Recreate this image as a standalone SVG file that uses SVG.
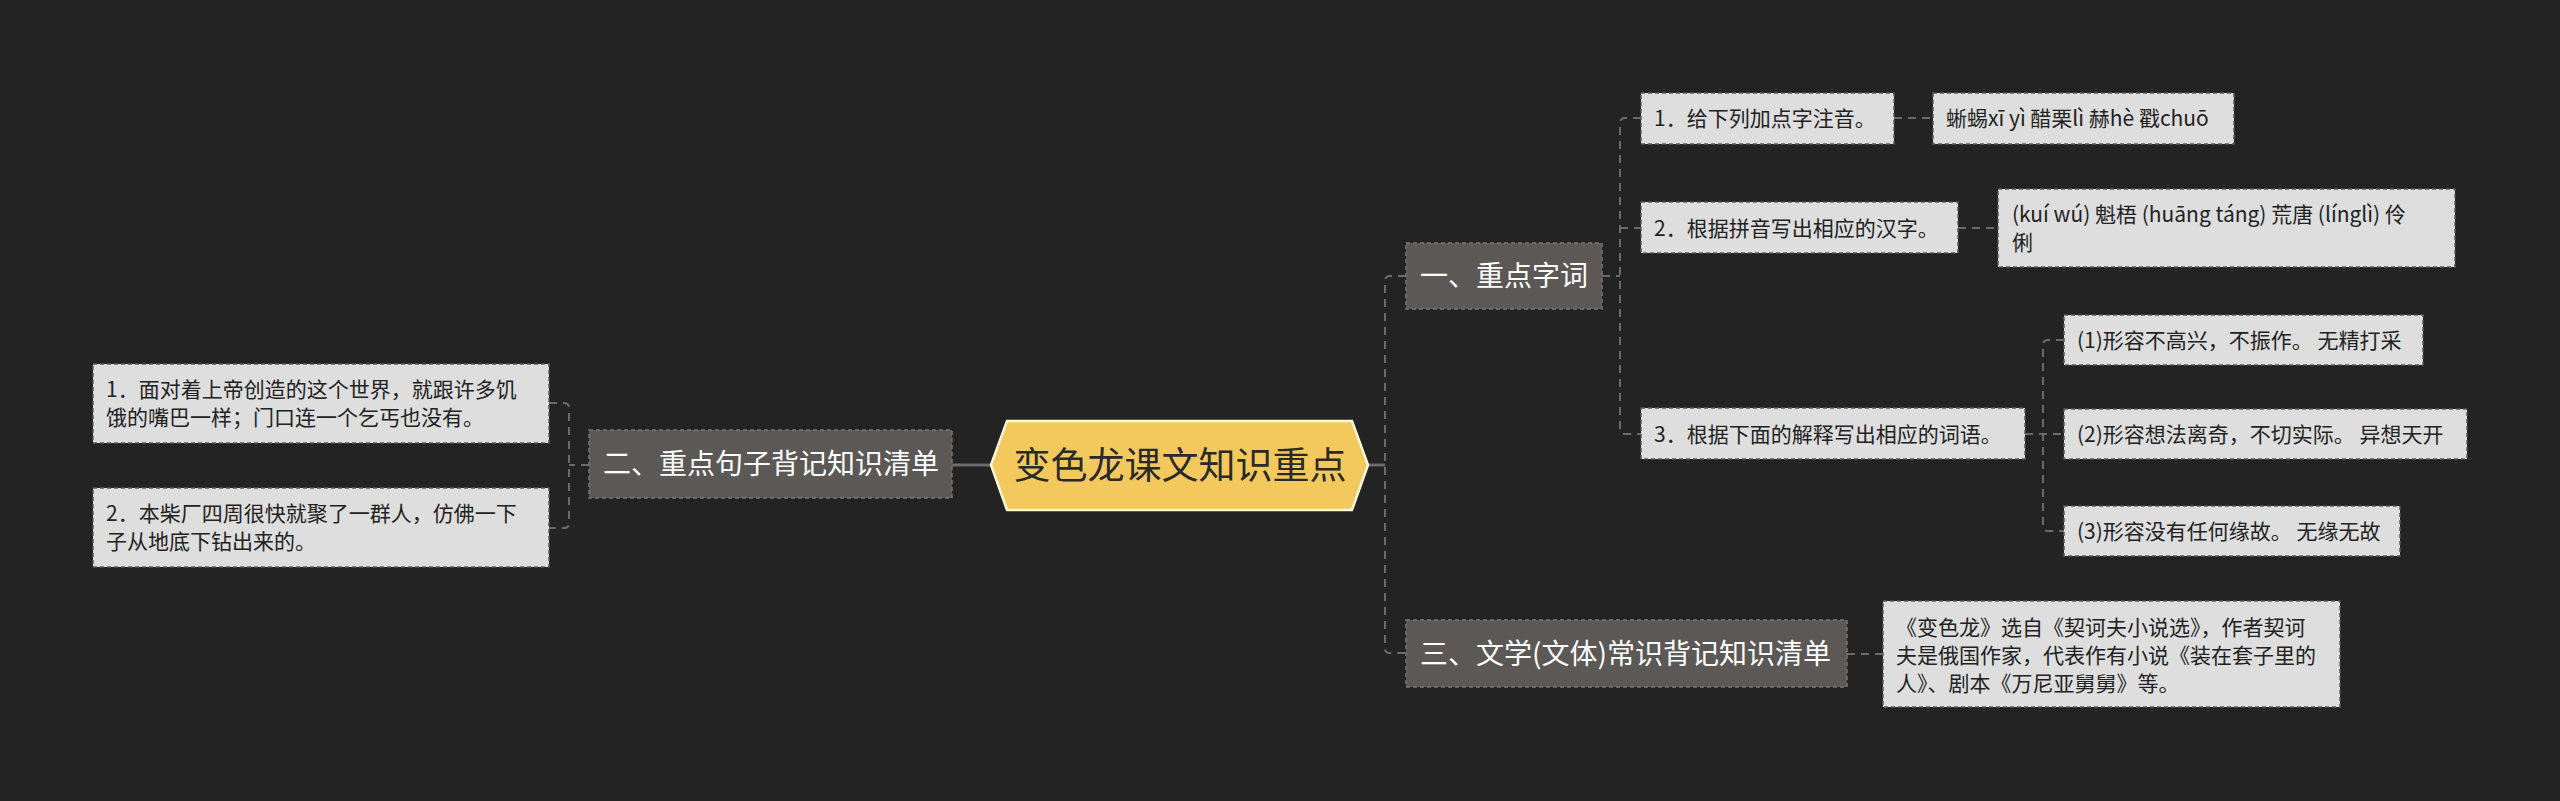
<svg xmlns="http://www.w3.org/2000/svg" width="2560" height="801" viewBox="0 0 2560 801">
<defs>
<style>
.bg{fill:#232323}
.conn{fill:none;stroke:#6b6b6b;stroke-width:2;stroke-dasharray:8 6}
.solid{fill:none;stroke:#6b6b6b;stroke-width:3}
.branch rect{fill:#5b5856;stroke:#7a7776;stroke-width:1.5;stroke-dasharray:4 3}
.branch text{fill:#ffffff;font-family:"Noto Sans CJK SC","Microsoft YaHei",sans-serif;font-size:28px}
.leaf rect{fill:#dedede;stroke:#5a5a5a;stroke-width:1.5;stroke-dasharray:4 3}
.leaf text{fill:#222222;font-family:"Noto Sans CJK SC","Microsoft YaHei",sans-serif;font-size:21px}
.root polygon{fill:#f3c85c;stroke:#fff6dc;stroke-width:2.5}
.root text{fill:#2a2a2a;font-family:"Noto Sans CJK SC","Microsoft YaHei",sans-serif;font-size:37px}
</style>
</defs>
<rect class="bg" x="0" y="0" width="2560" height="801"/>
<g id="connectors">
<path class="solid" d="M1368,465 H1385"/>
<path class="solid" d="M952,465 H991"/>
<path class="conn" d="M1406,276 H1390 Q1385,276 1385,281 V648 Q1385,653 1390,653 H1406"/>
<path class="conn" d="M1602,276 H1620"/>
<path class="conn" d="M1641,118 H1625 Q1620,118 1620,123 V429 Q1620,434 1625,434 H1641"/>
<path class="conn" d="M1620,228 H1641"/>
<path class="conn" d="M1894,118 H1933"/>
<path class="conn" d="M1958,228 H1998"/>
<path class="conn" d="M2025,434 H2064"/>
<path class="conn" d="M2064,340 H2048 Q2043,340 2043,345 V526 Q2043,531 2048,531 H2064"/>
<path class="conn" d="M1847,654 H1883"/>
<path class="conn" d="M589,465 H569"/>
<path class="conn" d="M549,403 H564 Q569,403 569,408 V523 Q569,528 564,528 H549"/>
</g>
<g id="root" class="root">
<polygon points="991,465 1007,421 1352,421 1368,465 1352,510 1007,510"/>
<text x="1180" y="479" text-anchor="middle">变色龙课文知识重点</text>
</g>
<g id="b1" class="branch">
<rect x="1406" y="243" width="196" height="66"/>
<text x="1420" y="286">一、重点字词</text>
</g>
<g id="b2" class="branch">
<rect x="589" y="430" width="363" height="68"/>
<text x="603" y="474">二、重点句子背记知识清单</text>
</g>
<g id="b3" class="branch">
<rect x="1406" y="620" width="441" height="67"/>
<text x="1420" y="664">三、文学(文体)常识背记知识清单</text>
</g>
<g id="l1" class="leaf">
<rect x="1641" y="93" width="253" height="51"/>
<text x="1654" y="126">1．给下列加点字注音。</text>
</g>
<g id="l1a" class="leaf">
<rect x="1933" y="93" width="301" height="51"/>
<text x="1946" y="126">蜥蜴xī yì 醋栗lì 赫hè 戳chuō</text>
</g>
<g id="l2" class="leaf">
<rect x="1641" y="202" width="317" height="51"/>
<text x="1654" y="236">2．根据拼音写出相应的汉字。</text>
</g>
<g id="l2a" class="leaf">
<rect x="1998" y="189" width="457" height="78"/>
<text x="2012" y="222">(kuí wú) 魁梧 (huāng táng) 荒唐 (línglì) 伶</text>
<text x="2012" y="250">俐</text>
</g>
<g id="l3" class="leaf">
<rect x="1641" y="408" width="384" height="51"/>
<text x="1654" y="442">3．根据下面的解释写出相应的词语。</text>
</g>
<g id="l3a" class="leaf">
<rect x="2064" y="315" width="359" height="50"/>
<text x="2077" y="348">(1)形容不高兴，不振作。 无精打采</text>
</g>
<g id="l3b" class="leaf">
<rect x="2064" y="409" width="403" height="50"/>
<text x="2077" y="442">(2)形容想法离奇，不切实际。 异想天开</text>
</g>
<g id="l3c" class="leaf">
<rect x="2064" y="506" width="336" height="50"/>
<text x="2077" y="539">(3)形容没有任何缘故。 无缘无故</text>
</g>
<g id="l4" class="leaf">
<rect x="1883" y="601" width="457" height="106"/>
<text x="1896" y="635">《变色龙》选自《契诃夫小说选》，作者契诃</text>
<text x="1896" y="663">夫是俄国作家，代表作有小说《装在套子里的</text>
<text x="1896" y="691">人》、剧本《万尼亚舅舅》等。</text>
</g>
<g id="s1" class="leaf">
<rect x="93" y="364" width="456" height="79"/>
<text x="106" y="397">1．面对着上帝创造的这个世界，就跟许多饥</text>
<text x="106" y="425">饿的嘴巴一样；门口连一个乞丐也没有。</text>
</g>
<g id="s2" class="leaf">
<rect x="93" y="488" width="456" height="79"/>
<text x="106" y="521">2．本柴厂四周很快就聚了一群人，仿佛一下</text>
<text x="106" y="549">子从地底下钻出来的。</text>
</g>
</svg>
